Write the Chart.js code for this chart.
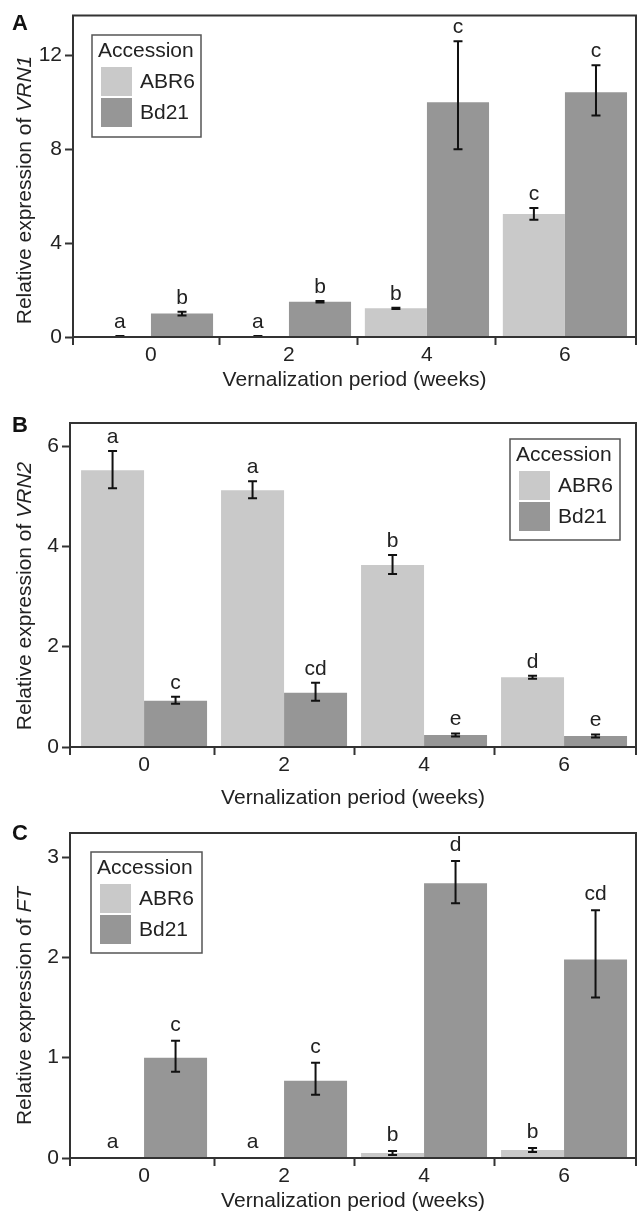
<!DOCTYPE html>
<html>
<head>
<meta charset="utf-8">
<script src="https://cdn.jsdelivr.net/npm/chart.js@4.4.1/dist/chart.umd.min.js"></script>
<style>
  html, body { margin: 0; padding: 0; background: #ffffff; }
  body { width: 638px; height: 1214px; position: relative; overflow: hidden; }
  canvas { position: absolute; left: 0; display: block; }
</style>
</head>
<body>
<canvas id="cA" width="638" height="400" style="top:0px"></canvas>
<canvas id="cB" width="638" height="415" style="top:400px"></canvas>
<canvas id="cC" width="638" height="399" style="top:815px"></canvas>
<script>
// ---------------- DATA ----------------
const categories = ['0', '2', '4', '6'];
const seriesNames = ['ABR6', 'Bd21'];
const legendTitle = 'Accession';
const xTitle = 'Vernalization period (weeks)';

// Panel A: VRN1
const vrn1ABR6 = [0.02, 0.02, 1.22, 5.24];
const vrn1ABR6ErrUp = [0.02, 0.02, 0.03, 0.25];
const vrn1ABR6ErrDown = [0.02, 0.02, 0.03, 0.25];
const vrn1Bd21 = [1.0, 1.5, 10.0, 10.43];
const vrn1Bd21ErrUp = [0.08, 0.03, 2.6, 1.15];
const vrn1Bd21ErrDown = [0.08, 0.03, 2.0, 1.0];
const vrn1LettersABR6 = ['a', 'a', 'b', 'c'];
const vrn1LettersBd21 = ['b', 'b', 'c', 'c'];
const vrn1Ticks = [0, 4, 8, 12];

// Panel B: VRN2
const vrn2ABR6 = [5.52, 5.12, 3.63, 1.39];
const vrn2ABR6ErrUp = [0.38, 0.18, 0.2, 0.03];
const vrn2ABR6ErrDown = [0.36, 0.16, 0.18, 0.03];
const vrn2Bd21 = [0.92, 1.08, 0.24, 0.22];
const vrn2Bd21ErrUp = [0.08, 0.2, 0.03, 0.03];
const vrn2Bd21ErrDown = [0.06, 0.16, 0.03, 0.03];
const vrn2LettersABR6 = ['a', 'a', 'b', 'd'];
const vrn2LettersBd21 = ['c', 'cd', 'e', 'e'];
const vrn2Ticks = [0, 2, 4, 6];

// Panel C: FT
const ftABR6 = [0.004, 0.004, 0.05, 0.08];
const ftABR6ErrUp = [0, 0, 0.02, 0.02];
const ftABR6ErrDown = [0, 0, 0.02, 0.02];
const ftBd21 = [1.0, 0.77, 2.74, 1.98];
const ftBd21ErrUp = [0.17, 0.18, 0.22, 0.49];
const ftBd21ErrDown = [0.14, 0.14, 0.2, 0.38];
const ftLettersABR6 = ['a', 'a', 'b', 'b'];
const ftLettersBd21 = ['c', 'c', 'd', 'cd'];
const ftTicks = [0, 1, 2, 3];

// ---------------- STYLE ----------------
const FONT = "'Liberation Sans', Arial, Helvetica, sans-serif";
const colABR6 = '#c9c9c9';
const colBd21 = '#969696';
const inkCol = '#222222';
const frameCol = '#333333';

function makeDeco(cfg) {
  return {
    id: 'deco' + cfg.key,
    afterDatasetsDraw(chart) {
      const ctx = chart.ctx;
      const a = chart.chartArea;
      const ys = chart.scales.y;
      ctx.save();
      // error bars + significance letters
      chart.data.datasets.forEach((ds, di) => {
        const meta = chart.getDatasetMeta(di);
        meta.data.forEach((bar, i) => {
          const v = ds.data[i];
          const up = cfg.errUp[di][i];
          const dn = cfg.errDown[di][i];
          const x = bar.x;
          const topY = ys.getPixelForValue(v + up);
          if (up > 0 || dn > 0) {
            const botY = ys.getPixelForValue(v - dn);
            ctx.strokeStyle = '#111';
            ctx.lineWidth = 2;
            ctx.beginPath();
            ctx.moveTo(x, topY); ctx.lineTo(x, botY);
            ctx.moveTo(x - 4.5, topY); ctx.lineTo(x + 4.5, topY);
            ctx.moveTo(x - 4.5, botY); ctx.lineTo(x + 4.5, botY);
            ctx.stroke();
          }
          ctx.fillStyle = inkCol;
          ctx.font = '21px ' + FONT;
          ctx.textAlign = 'center';
          ctx.textBaseline = 'alphabetic';
          ctx.fillText(cfg.letters[di][i], x, topY - cfg.letterGap);
        });
      });
      // frame
      ctx.strokeStyle = frameCol;
      ctx.lineWidth = 2;
      ctx.beginPath();
      ctx.moveTo(a.left, a.bottom + 8); ctx.lineTo(a.left, a.top);
      ctx.lineTo(a.right, a.top); ctx.lineTo(a.right, a.bottom + 8);
      ctx.moveTo(a.left, a.bottom); ctx.lineTo(a.right, a.bottom);
      ctx.stroke();
      // legend
      const L = cfg.legend;
      ctx.strokeStyle = '#555';
      ctx.lineWidth = 1.5;
      ctx.strokeRect(L.x, L.y, L.w, L.h);
      ctx.fillStyle = inkCol;
      ctx.font = '21px ' + FONT;
      ctx.textAlign = 'left';
      ctx.textBaseline = 'alphabetic';
      ctx.fillText(legendTitle, L.x + 6, L.y + 22);
      chart.data.datasets.forEach((ds, di) => {
        const sy = L.y + 32 + di * 31;
        ctx.fillStyle = ds.backgroundColor;
        ctx.fillRect(L.x + 9, sy, 31, 29);
        ctx.fillStyle = inkCol;
        ctx.textBaseline = 'middle';
        ctx.fillText(ds.label, L.x + 48, sy + 15);
      });
      ctx.restore();
    },
    afterDraw(chart) {
      const ctx = chart.ctx;
      ctx.save();
      // panel letter
      ctx.fillStyle = '#111';
      ctx.font = 'bold 22px ' + FONT;
      ctx.textAlign = 'left';
      ctx.textBaseline = 'alphabetic';
      ctx.fillText(cfg.panel, 12, cfg.panelY);
      // y-axis title with italic gene name
      ctx.translate(31, cfg.yTitleY);
      ctx.rotate(-Math.PI / 2);
      ctx.fillStyle = inkCol;
      const f1 = '21px ' + FONT, f2 = 'italic 21px ' + FONT;
      ctx.font = f1; const w1 = ctx.measureText(cfg.yTitle).width;
      ctx.font = f2; const w2 = ctx.measureText(cfg.gene).width;
      let sx = -(w1 + w2) / 2;
      ctx.textAlign = 'left';
      ctx.font = f1; ctx.fillText(cfg.yTitle, sx, 0);
      ctx.font = f2; ctx.fillText(cfg.gene, sx + w1, 0);
      ctx.restore();
    }
  };
}

function makeChart(canvasId, cfg) {
  return new Chart(document.getElementById(canvasId), {
    type: 'bar',
    data: {
      labels: categories,
      datasets: [
        { label: seriesNames[0], data: cfg.abr6, backgroundColor: colABR6, borderWidth: 0,
          categoryPercentage: 0.9, barPercentage: 1.0 },
        { label: seriesNames[1], data: cfg.bd21, backgroundColor: colBd21, borderWidth: 0,
          categoryPercentage: 0.9, barPercentage: 1.0 }
      ]
    },
    options: {
      responsive: false,
      animation: false,
      events: [],
      layout: { autoPadding: false, padding: { left: 0, right: 2, top: cfg.padTop, bottom: 0 } },
      plugins: { legend: { display: false }, tooltip: { enabled: false } },
      scales: {
        x: {
          type: 'category',
          offset: true,
          afterBuildTicks: (s) => { s._startValue = cfg.xStart; s._valueRange = cfg.xRange; },
          afterFit: (s) => { s.height = cfg.xHeight; },
          border: { display: false },
          grid: {
            offset: true, drawOnChartArea: false, drawTicks: true, tickLength: 8, tickWidth: 2,
            tickColor: (ctx) => (ctx.index === 0 || ctx.index === undefined) ? 'rgba(0,0,0,0)' : frameCol
          },
          ticks: { color: inkCol, padding: 0, font: { family: FONT, size: 21, lineHeight: 1.0 } },
          title: { display: true, text: xTitle, color: inkCol, padding: { top: 0, bottom: cfg.xTitlePad },
                   font: { family: FONT, size: 21, lineHeight: 1.2 } }
        },
        y: {
          type: 'linear',
          min: 0, max: cfg.yMax,
          afterBuildTicks: (s) => { s.ticks = cfg.yTicks.map(v => ({ value: v })); },
          afterFit: (s) => { s.width = cfg.yWidth; },
          border: { display: false },
          grid: { drawOnChartArea: false, drawTicks: true, tickLength: 8, tickWidth: 2, tickColor: frameCol },
          ticks: { color: inkCol, padding: 3, font: { family: FONT, size: 21 } }
        }
      }
    },
    plugins: [makeDeco(cfg)]
  });
}

makeChart('cA', {
  key: 'A', panel: 'A', panelY: 30, gene: 'VRN1', yTitle: 'Relative expression of ', yTitleY: 190,
  abr6: vrn1ABR6, bd21: vrn1Bd21,
  errUp: [vrn1ABR6ErrUp, vrn1Bd21ErrUp], errDown: [vrn1ABR6ErrDown, vrn1Bd21ErrDown],
  letters: [vrn1LettersABR6, vrn1LettersBd21], letterGap: 8,
  yTicks: vrn1Ticks, yMax: 13.69,
  padTop: 13, xHeight: 63, yWidth: 73, xTitlePad: 7,
  xStart: -0.565, xRange: 4.08,
  legend: { x: 92, y: 35, w: 109, h: 102 }
});

makeChart('cB', {
  key: 'B', panel: 'B', panelY: 32, gene: 'VRN2', yTitle: 'Relative expression of ', yTitleY: 196,
  abr6: vrn2ABR6, bd21: vrn2Bd21,
  errUp: [vrn2ABR6ErrUp, vrn2Bd21ErrUp], errDown: [vrn2ABR6ErrDown, vrn2Bd21ErrDown],
  letters: [vrn2LettersABR6, vrn2LettersBd21], letterGap: 8,
  yTicks: vrn2Ticks, yMax: 6.46,
  padTop: 23, xHeight: 68, yWidth: 70, xTitlePad: 4,
  xStart: -0.529, xRange: 4.043,
  legend: { x: 510, y: 39, w: 110, h: 101 }
});

makeChart('cC', {
  key: 'C', panel: 'C', panelY: 25, gene: 'FT', yTitle: 'Relative expression of ', yTitleY: 191,
  abr6: ftABR6, bd21: ftBd21,
  errUp: [ftABR6ErrUp, ftBd21ErrUp], errDown: [ftABR6ErrDown, ftBd21ErrDown],
  letters: [ftLettersABR6, ftLettersBd21], letterGap: 10,
  yTicks: ftTicks, yMax: 3.24,
  padTop: 18, xHeight: 56, yWidth: 70, xTitlePad: 0,
  xStart: -0.529, xRange: 4.043,
  legend: { x: 91, y: 37, w: 111, h: 101 }
});
</script>
</body>
</html>
